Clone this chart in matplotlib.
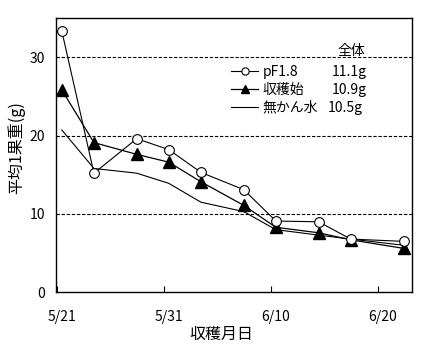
import datetime as dt

import matplotlib
matplotlib.use("Agg")
import matplotlib.pyplot as plt
import matplotlib.transforms as mtransforms

plt.rcParams["font.family"] = ["Noto Sans CJK JP", "DejaVu Sans"]

# harvest dates and mean fruit weight (g)
dates = ["5/21", "5/24", "5/28", "5/31", "6/3", "6/7", "6/10", "6/14", "6/17", "6/22"]
pf18 = [33.3, 15.2, 19.6, 18.2, 15.3, 13.1, 9.1, 9.0, 6.8, 6.5]
shukaku = [25.8, 19.1, 17.6, 16.6, 14.1, 11.1, 8.3, 7.6, 6.7, 5.6]
mukansui = [20.7, 15.8, 15.2, 13.9, 11.5, 10.3, 8.0, 7.3, 6.8, 6.0]

series_names = ["pF1.8", "収穫始", "無かん水"]
overall = ["11.1g", "10.9g", "10.5g"]

tick_dates = ["5/21", "5/31", "6/10", "6/20"]
y_ticks = [0, 10, 20, 30]


def to_day(s, start="5/21"):
    m, d = map(int, s.split("/"))
    m0, d0 = map(int, start.split("/"))
    return (dt.date(2000, m, d) - dt.date(2000, m0, d0)).days


x = [to_day(s) for s in dates]

fig = plt.figure(figsize=(4.39, 3.51), dpi=100)
ax = fig.add_axes([0.128, 0.167, 0.811, 0.782])

for yv in y_ticks[1:]:
    ax.axhline(yv, color="black", lw=0.8, linestyle=(0, (3, 1.6)), zorder=1)

ax.plot(x, pf18, color="black", lw=0.8, marker="o", markersize=7,
        markerfacecolor="white", markeredgecolor="black", markeredgewidth=0.8,
        label=series_names[0], zorder=4)
ax.plot(x, shukaku, color="black", lw=0.9, marker="^", markersize=8,
        markerfacecolor="black", markeredgecolor="black",
        label=series_names[1], zorder=3)
ax.plot(x, mukansui, color="black", lw=0.8, label=series_names[2], zorder=2)

ax.set_xlim(-0.53, 32.75)
ax.set_ylim(0, 35)

# ticks sit a little left of the date labels in the original
tick_days = [to_day(s) for s in tick_dates]
ax.set_xticks([d - 0.45 for d in tick_days])
ax.set_xticklabels(tick_dates, fontsize=10)
ax.tick_params(axis="x", direction="in", length=4, width=0.8, pad=13)
offset = mtransforms.ScaledTranslation(5 / 100, 0, fig.dpi_scale_trans)
for lab in ax.get_xticklabels():
    lab.set_transform(lab.get_transform() + offset)

ax.set_yticks(y_ticks)
ax.set_yticklabels([str(v) for v in y_ticks], fontsize=10)
ax.tick_params(axis="y", direction="in", length=0, pad=8)

for sp in ax.spines.values():
    sp.set_linewidth(1.0)

ax.set_xlabel("収穫月日", fontsize=11.5)
ax.xaxis.set_label_coords(0.465, -0.152)
ax.xaxis.label.set_va("center")
ax.set_ylabel("平均1果重(g)", fontsize=11.5)
ax.yaxis.set_label_coords(-0.113, 0.526)
ax.yaxis.label.set_va("center")

leg = ax.legend(loc="upper left", bbox_to_anchor=(0.49, 0.828), frameon=False,
                fontsize=10, handlelength=2.0, handletextpad=0.3,
                labelspacing=0.28, borderpad=0, borderaxespad=0,
                markerscale=0.75)

ax.text(0.83, 0.878, "全体", transform=ax.transAxes, fontsize=10,
        ha="center", va="center")
for i, v in enumerate(overall):
    ax.text(0.774 if i < 2 else 0.762, 0.803 - i * 0.0655, v,
            transform=ax.transAxes, fontsize=10, ha="left", va="center")

fig.savefig("out.png", dpi=100, facecolor="white")
